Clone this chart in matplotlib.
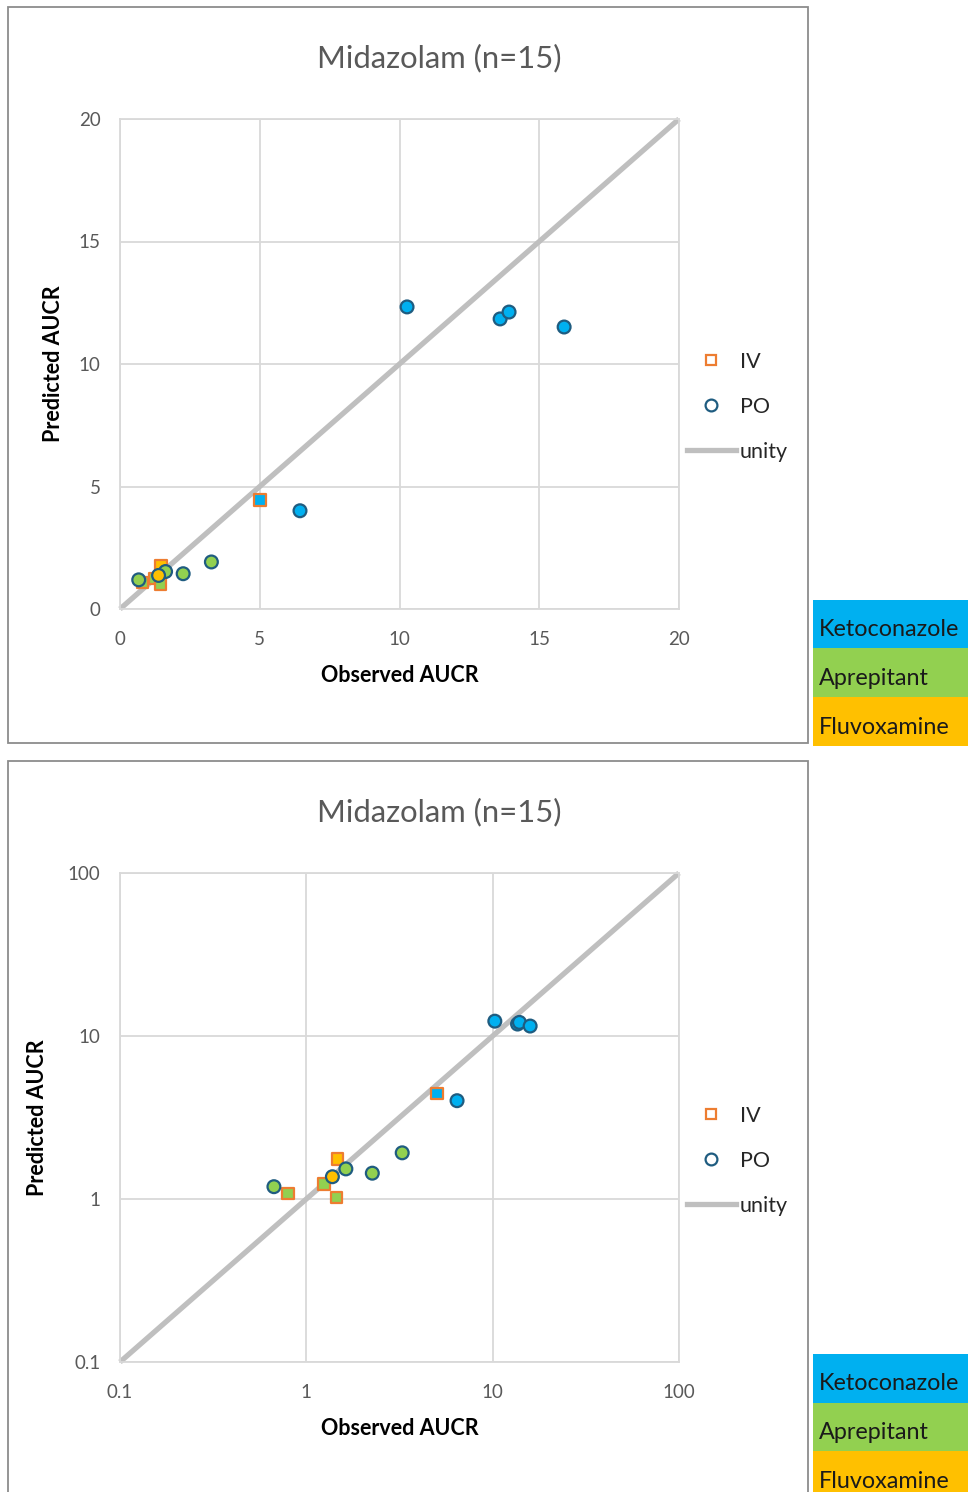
import matplotlib
matplotlib.use("Agg")
import matplotlib.pyplot as plt
from matplotlib.lines import Line2D
from matplotlib.patches import Rectangle

plt.rcParams['font.family'] = ['Lato', 'DejaVu Sans']

# data
title = "Midazolam (n=15)"
drugs = ["Ketoconazole", "Aprepitant", "Fluvoxamine"]
drug_colors = {"Ketoconazole": "#00B0F0", "Aprepitant": "#92D050", "Fluvoxamine": "#FFC000"}

obs_iv = [5.02, 0.80, 1.24, 1.45, 1.47]
pred_iv = [4.45, 1.08, 1.24, 1.02, 1.76]
drug_iv = ["Ketoconazole", "Aprepitant", "Aprepitant", "Aprepitant", "Fluvoxamine"]

obs_po = [10.27, 13.60, 13.92, 15.89, 6.44, 0.67, 1.63, 2.26, 3.27, 1.38]
pred_po = [12.33, 11.84, 12.12, 11.51, 4.01, 1.19, 1.53, 1.44, 1.92, 1.37]
drug_po = ["Ketoconazole"] * 5 + ["Aprepitant"] * 4 + ["Fluvoxamine"]

lin_ticks = [0, 5, 10, 15, 20]
log_ticks = [0.1, 1, 10, 100]
log_labels = ["0.1", "1", "10", "100"]

W, H = 968, 1492
fig = plt.figure(figsize=(W / 100, H / 100), dpi=100)

GRID = "#D9D9D9"
TXT = "#595959"
IV_EDGE = "#ED7D31"
PO_EDGE = "#1F5C80"
UNITY = "#BFBFBF"


def px_axes(x0, y0, x1, y1):
    return fig.add_axes([x0 / W, 1 - y1 / H, (x1 - x0) / W, (y1 - y0) / H])


def frame(x0, y0, x1, y1):
    fig.patches.append(Rectangle((x0 / W, 1 - y1 / H), (x1 - x0) / W, (y1 - y0) / H,
                                 transform=fig.transFigure, fill=False,
                                 edgecolor="#8C8C8C", linewidth=1.3))


def drug_boxes(ytop):
    for i, d in enumerate(drugs):
        y0 = ytop + i * 48.5
        fig.patches.append(Rectangle((813 / W, 1 - (y0 + 48.5) / H), 155 / W, 48.5 / H,
                                     transform=fig.transFigure, facecolor=drug_colors[d],
                                     edgecolor="none"))
        fig.text(819 / W, 1 - (y0 + 30) / H, d, fontsize=16.8, color="#1a1a1a",
                 va="center", ha="left")


def panel(ax, log, top, ylab_x):
    if log:
        ax.set_xscale("log")
        ax.set_yscale("log")
        lo, hi = 0.1, 100
        ticks, labels = log_ticks, log_labels
    else:
        lo, hi = 0, 20
        ticks, labels = lin_ticks, [str(t) for t in lin_ticks]
    ax.set_xlim(lo, hi)
    ax.set_ylim(lo, hi)
    ax.set_xticks(ticks)
    ax.set_xticklabels(labels)
    ax.set_yticks(ticks)
    ax.set_yticklabels(labels)
    ax.minorticks_off()
    ax.grid(True, color=GRID, linewidth=1.3)
    ax.set_axisbelow(True)
    for s in ax.spines.values():
        s.set_color(GRID)
        s.set_linewidth(1.3)
    ax.tick_params(length=0, colors=TXT, labelsize=13.5, pad=16)
    ax.tick_params(axis="y", pad=14)

    ax.plot([lo, hi], [lo, hi], color=UNITY, linewidth=3.8, solid_capstyle="butt",
            zorder=2, clip_on=False)
    ax.scatter(obs_iv, pred_iv, marker="s", s=70, c=[drug_colors[d] for d in drug_iv],
               edgecolors=IV_EDGE, linewidths=1.6, zorder=3)
    ax.scatter(obs_po, pred_po, marker="o", s=85, c=[drug_colors[d] for d in drug_po],
               edgecolors=PO_EDGE, linewidths=1.6, zorder=4)

    fig.text(439 / W, 1 - (top - 61) / H, title, fontsize=22.3, color=TXT,
             ha="center", va="center")
    ax.set_xlabel("Observed AUCR", fontsize=15.5, fontweight="bold", color="black")
    ax.set_ylabel("Predicted AUCR", fontsize=15.5, fontweight="bold", color="black")
    ax.xaxis.set_label_coords(0.5, -0.114)
    ax.yaxis.set_label_coords(ylab_x, 0.5)

    handles = [
        Line2D([], [], marker="s", linestyle="none", markerfacecolor="none",
               markeredgecolor=IV_EDGE, markeredgewidth=1.6, markersize=7.5),
        Line2D([], [], marker="o", linestyle="none", markerfacecolor="none",
               markeredgecolor=PO_EDGE, markeredgewidth=1.6, markersize=8.5),
        Line2D([], [], color=UNITY, linewidth=3.8),
    ]
    ax.legend(handles, ["IV", "PO", "unity"], loc="center left",
              bbox_to_anchor=(678 / W, 1 - (top + 288) / H), bbox_transform=fig.transFigure,
              frameon=False, fontsize=15.5, handlelength=2.28, handletextpad=0.18,
              labelspacing=1.16, borderaxespad=0, labelcolor="#262626")


# top panel (linear)
frame(8, 7, 808, 743)
ax1 = px_axes(120, 119, 679, 609)
panel(ax1, False, 119, -0.1)
drug_boxes(600)

# bottom panel (log)
frame(8, 761, 808, 1520)
ax2 = px_axes(120, 873, 679, 1362)
panel(ax2, True, 873, -0.129)
drug_boxes(1354)

fig.savefig("out.png", dpi=100)
